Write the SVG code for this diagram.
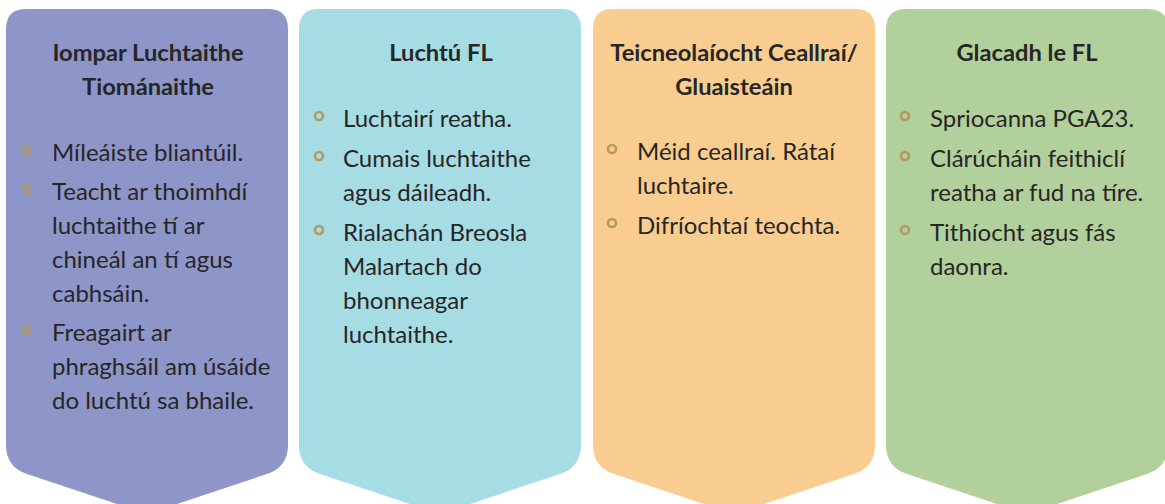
<svg xmlns="http://www.w3.org/2000/svg" width="1165" height="504" viewBox="0 0 1165 504">
<defs>
<style>
.t{font-family:Lato,"Liberation Sans",sans-serif;font-size:23.7px;font-weight:700;fill:#262626;text-anchor:middle}
.b{font-family:Lato,"Liberation Sans",sans-serif;font-size:24px;fill:#262626}
.d{fill:none;stroke:#b49963;stroke-width:2.6}
</style>
<path id="shape" d="M0 20 Q0 0 20 0 L262 0 Q282 0 282 20 L282 436 Q282 458 261 465 L141 505 L21 465 Q0 458 0 436 Z"/>
</defs>
<rect width="1165" height="504" fill="#fff"/>
<g id="panel1">
<use href="#shape" x="6" y="9" fill="#8e95c8"/>
<text class="t" x="148" y="61">Iompar Luchtaithe</text>
<text class="t" x="148" y="95">Tiománaithe</text>
<circle class="d" cx="27" cy="150" r="4"/>
<text class="b" x="52" y="161">Míleáiste bliantúil.</text>
<circle class="d" cx="27" cy="189" r="4"/>
<text class="b" x="52" y="200">Teacht ar thoimhdí</text>
<text class="b" x="52" y="234">luchtaithe tí ar</text>
<text class="b" x="52" y="268">chineál an tí agus</text>
<text class="b" x="52" y="302">cabhsáin.</text>
<circle class="d" cx="27" cy="330" r="4"/>
<text class="b" x="52" y="341">Freagairt ar</text>
<text class="b" x="52" y="375">phraghsáil am úsáide</text>
<text class="b" x="52" y="409">do luchtú sa bhaile.</text>
</g>
<g id="panel2">
<use href="#shape" x="299" y="9" fill="#a6dce4"/>
<text class="t" x="441" y="61">Luchtú FL</text>
<circle class="d" cx="319" cy="116" r="4"/>
<text class="b" x="343" y="127">Luchtairí reatha.</text>
<circle class="d" cx="319" cy="156" r="4"/>
<text class="b" x="343" y="167">Cumais luchtaithe</text>
<text class="b" x="343" y="201">agus dáileadh.</text>
<circle class="d" cx="319" cy="230" r="4"/>
<text class="b" x="343" y="241">Rialachán Breosla</text>
<text class="b" x="343" y="275">Malartach do</text>
<text class="b" x="343" y="309">bhonneagar</text>
<text class="b" x="343" y="343">luchtaithe.</text>
</g>
<g id="panel3">
<use href="#shape" x="593" y="9" fill="#f9cd8f"/>
<text class="t" x="734" y="61">Teicneolaíocht Ceallraí/</text>
<text class="t" x="734" y="95">Gluaisteáin</text>
<circle class="d" cx="612" cy="149" r="4"/>
<text class="b" x="637" y="160">Méid ceallraí. Rátaí</text>
<text class="b" x="637" y="194">luchtaire.</text>
<circle class="d" cx="612" cy="223" r="4"/>
<text class="b" x="637" y="234">Difríochtaí teochta.</text>
</g>
<g id="panel4">
<use href="#shape" x="886" y="9" fill="#b2d09b"/>
<text class="t" x="1027" y="61">Glacadh le FL</text>
<circle class="d" cx="905" cy="116" r="4"/>
<text class="b" x="930" y="127">Spriocanna PGA23.</text>
<circle class="d" cx="905" cy="156" r="4"/>
<text class="b" x="930" y="167">Clárúcháin feithiclí</text>
<text class="b" x="930" y="201">reatha ar fud na tíre.</text>
<circle class="d" cx="905" cy="230" r="4"/>
<text class="b" x="930" y="241">Tithíocht agus fás</text>
<text class="b" x="930" y="275">daonra.</text>
</g>
<g id="connectors"/>
</svg>
